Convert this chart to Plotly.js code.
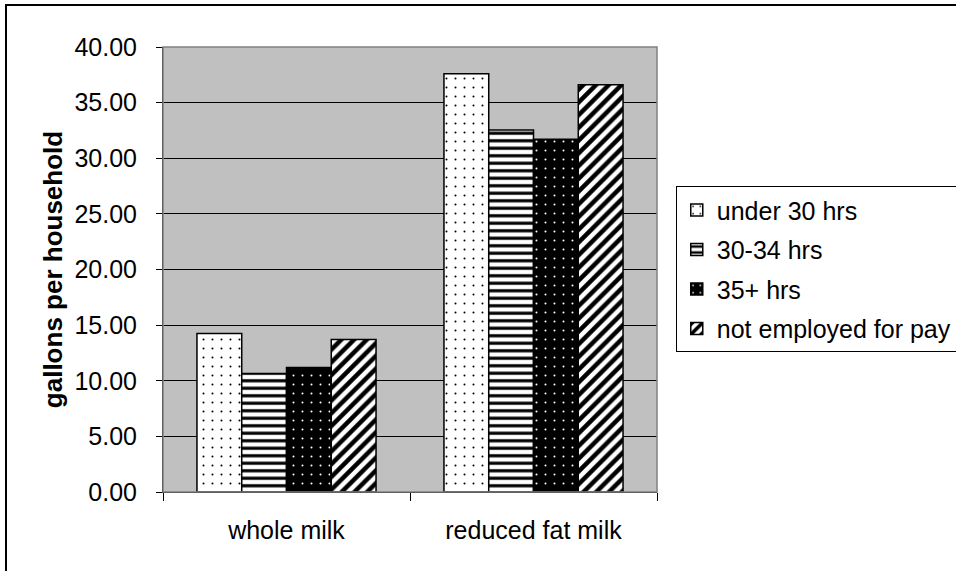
<!DOCTYPE html>
<html>
<head>
<meta charset="utf-8">
<script src="https://cdn.plot.ly/plotly-3.0.1.min.js"></script>
<style>
  html, body { margin: 0; padding: 0; overflow: hidden; background: #fff; width: 956px; height: 571px; }
  #chart { position: absolute; left: 0; top: 0; width: 1000px; height: 600px; }
  #frame { position: absolute; left: 5px; top: 4px; width: 1100px; height: 700px; border: 2px solid #000; pointer-events: none; }
</style>
</head>
<body>
<div id="chart"></div>
<div id="frame"></div>
<script>
const categories = ["whole milk", "reduced fat milk"];
const seriesNames = ["under 30 hrs", "30-34 hrs", "35+ hrs", "not employed for pay"];
const under30 = [14.25, 37.6];
const hrs30to34 = [10.65, 32.55];
const hrs35plus = [11.2, 31.7];
const notEmployed = [13.7, 36.6];
const yTickVals = [0, 5, 10, 15, 20, 25, 30, 35, 40];

const values = [under30, hrs30to34, hrs35plus, notEmployed];
const styles = [
  {bg: "#ffffff", fg: "#000000", shape: ".", size: 9, solidity: 0.04},
  {bg: "#ffffff", fg: "#000000", shape: "-", size: 7.5, solidity: 0.42},
  {bg: "#000000", fg: "#ffffff", shape: ".", size: 9, solidity: 0.04},
  {bg: "#ffffff", fg: "#000000", shape: "/", size: 9, solidity: 0.5}
];

const font = "Liberation Sans, Arial, sans-serif";

const traces = seriesNames.map((name, i) => ({
  type: "bar",
  name: name,
  x: categories,
  y: values[i],
  legendgroup: "g" + i,
  marker: {
    color: styles[i].bg,
    line: {color: "#000", width: 1.5},
    pattern: {
      shape: styles[i].shape,
      fillmode: "overlay",
      fgcolor: styles[i].fg,
      fgopacity: 1,
      size: styles[i].size,
      solidity: styles[i].solidity
    }
  },
  hoverinfo: "y+name"
}));

const layout = {
  width: 1000,
  height: 600,
  margin: {l: 163, r: 343, t: 47, b: 108, pad: 0},
  paper_bgcolor: "#ffffff",
  plot_bgcolor: "#c0c0c0",
  font: {family: font, size: 25, color: "#000"},
  barmode: "group",
  bargap: 0.275,
  bargroupgap: 0,
  showlegend: true,
  legend: {
    x: 1.038, xanchor: "left",
    y: 0.687, yanchor: "top",
    bgcolor: "#ffffff",
    bordercolor: "#000000",
    borderwidth: 1,
    font: {family: font, size: 25, color: "#000"},
    traceorder: "grouped",
    tracegroupgap: 4
  },
  xaxis: {
    type: "category",
    showgrid: false,
    showline: true,
    linecolor: "#000",
    linewidth: 1,
    ticks: "outside",
    tickson: "boundaries",
    ticklen: 8,
    tickcolor: "#000",
    tickwidth: 1,
    ticklabelstandoff: 16,
    tickfont: {family: font, size: 25, color: "#000"},
    fixedrange: true
  },
  yaxis: {
    range: [0, 40],
    tickvals: yTickVals,
    tickformat: ".2f",
    showgrid: true,
    gridcolor: "#000",
    gridwidth: 1,
    zeroline: false,
    showline: true,
    linecolor: "#000",
    linewidth: 1,
    ticks: "outside",
    ticklen: 6,
    tickcolor: "#000",
    ticklabelstandoff: 14,
    tickfont: {family: font, size: 25, color: "#000"},
    title: {text: "<b>gallons per household</b>", standoff: 4, font: {family: font, size: 26, color: "#000"}},
    fixedrange: true
  },
  shapes: [
    {type: "rect", xref: "paper", yref: "paper", x0: 0, x1: 1, y0: 0, y1: 1,
     line: {color: "#808080", width: 1.5}, fillcolor: "rgba(0,0,0,0)", layer: "above"}
  ]
};

Plotly.newPlot("chart", traces, layout, {displayModeBar: false, staticPlot: true});
</script>
</body>
</html>
